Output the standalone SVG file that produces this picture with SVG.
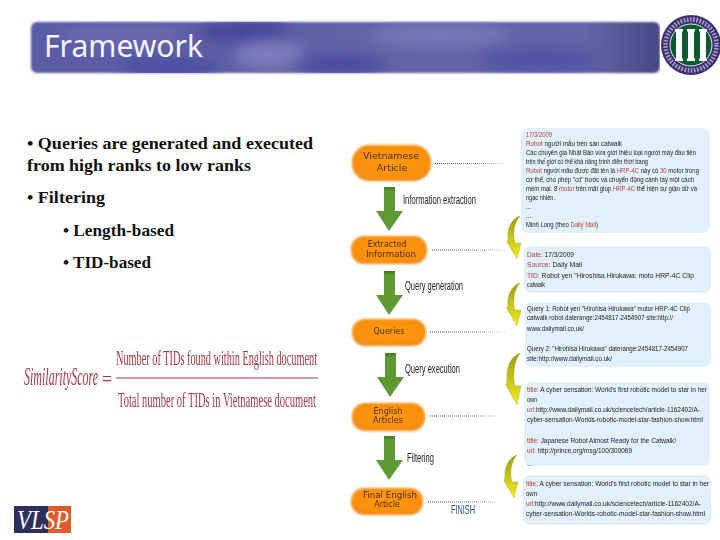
<svg xmlns="http://www.w3.org/2000/svg" xmlns:xlink="http://www.w3.org/1999/xlink" width="720" height="540" viewBox="0 0 720 540">
<style>
.body{font-family:"Liberation Serif","Times New Roman",serif;font-weight:bold;font-size:17px;fill:#111}
.node{fill:url(#orange);filter:url(#soft)}
.nt{font-family:"DejaVu Sans",Verdana,sans-serif;font-size:8px;fill:#4e2a06;text-anchor:middle;filter:url(#txt)}
.panel{fill:#e2f0fb}
.p{font-family:"Liberation Sans",Arial,sans-serif;font-size:6.6px;fill:#1c1c1c;filter:url(#txt)}
.r{fill:#b2423a}
.step{font-family:"Liberation Sans",Arial,sans-serif;font-size:12px;fill:#1c1c1c;filter:url(#txt)}
.dot{stroke:url(#fade);stroke-width:1;stroke-dasharray:1 1;fill:none}
.f{font-family:"Liberation Serif","Times New Roman",serif;fill:#a83648;filter:url(#txt)}
</style>
<defs>
<filter id="soft" x="-10%" y="-15%" width="120%" height="130%"><feGaussianBlur stdDeviation="0.8"/></filter>
<filter id="txt" x="-5%" y="-30%" width="110%" height="160%"><feGaussianBlur stdDeviation="0.25"/></filter>
<filter id="cloud" x="-50%" y="-100%" width="200%" height="300%"><feGaussianBlur stdDeviation="7"/></filter>
<filter id="edge" x="-2%" y="-10%" width="104%" height="120%"><feGaussianBlur stdDeviation="1.1"/></filter>
<radialGradient id="orange" cx="50%" cy="45%" r="65%"><stop offset="0" stop-color="#ff9a12"/><stop offset="0.75" stop-color="#f98f10"/><stop offset="1" stop-color="#e98a2c"/></radialGradient>
<linearGradient id="green" x1="0" y1="0" x2="0" y2="1"><stop offset="0" stop-color="#3f7d25"/><stop offset="0.1" stop-color="#5d9a2f"/><stop offset="1" stop-color="#5f9a35"/></linearGradient>
<linearGradient id="yel" x1="0" y1="0" x2="0" y2="1"><stop offset="0" stop-color="#9a9c1a"/><stop offset="0.55" stop-color="#c8c818"/><stop offset="1" stop-color="#f7ee22"/></linearGradient>
<linearGradient id="band" x1="0" y1="0" x2="1" y2="0"><stop offset="0" stop-color="#5a5ba6"/><stop offset="0.5" stop-color="#6263a8"/><stop offset="0.88" stop-color="#6465a8"/><stop offset="1" stop-color="#474885"/></linearGradient>
<linearGradient id="fade" gradientUnits="userSpaceOnUse" x1="428" y1="0" x2="505" y2="0"><stop offset="0" stop-color="#444"/><stop offset="0.6" stop-color="#777"/><stop offset="1" stop-color="#ddd"/></linearGradient>
<clipPath id="bandclip"><rect x="31" y="22" width="629" height="51" rx="6"/></clipPath>
<path id="ga" d="M-5,0 H6 V24 H14 L0,44 L-13,24 H-5 Z" fill="url(#green)"/>
<path id="ya" d="M0,0 C-9,3 -13,13 -12,22 L-13,26 L-3,43 L1,27 L-5,27 C-7,20 -7,8 0,0 Z" fill="url(#yel)" stroke="#a8a820" stroke-width="0.4"/>
</defs>
<rect width="720" height="540" fill="#fff"/>

<g id="banner">
<rect x="31" y="22" width="629" height="51" rx="6" fill="url(#band)" filter="url(#edge)"/>
<g clip-path="url(#bandclip)">
<ellipse cx="245" cy="32" rx="45" ry="12" fill="#44479c" filter="url(#cloud)"/>
<ellipse cx="170" cy="68" rx="50" ry="10" fill="#4a4da2" filter="url(#cloud)"/>
<ellipse cx="270" cy="55" rx="35" ry="14" fill="#7e7cb8" filter="url(#cloud)"/>
<ellipse cx="340" cy="65" rx="45" ry="10" fill="#494ca0" filter="url(#cloud)"/>
<ellipse cx="120" cy="35" rx="60" ry="10" fill="#6c6ab0" filter="url(#cloud)"/>
<ellipse cx="440" cy="35" rx="70" ry="12" fill="#7876b6" filter="url(#cloud)"/>
<ellipse cx="540" cy="60" rx="60" ry="12" fill="#4f52a6" filter="url(#cloud)"/>
</g>
<text x="44" y="57" textLength="159" lengthAdjust="spacingAndGlyphs" font-family="'Noto Sans','Open Sans',sans-serif" font-size="30" fill="#f4f4fb">Framework</text>
</g>

<g id="seal">
<rect x="660" y="12" width="60" height="66" fill="#fff"/>
<circle cx="691" cy="45" r="30" fill="#3d2f70"/>
<circle cx="691" cy="45" r="25.5" fill="none" stroke="#a9a3c8" stroke-width="4.500" stroke-dasharray="1.6 1.6"/>
<circle cx="691" cy="45" r="21" fill="#0c5a30" stroke="#e8e8e8" stroke-width="1"/>
<path fill="#fff" d="M675,29h8v2.500h-1v27h1v2.500h-8v-2.500h1v-27h-1z M687,29h8v2.500h-1v27h1v2.500h-8v-2.500h1v-27h-1z M699,29h8v2.500h-1v27h1v2.500h-8v-2.500h1v-27h-1z"/>
</g>

<g id="bullets">
<text class="body" x="27" y="149" textLength="286" lengthAdjust="spacingAndGlyphs">• Queries are generated and executed</text>
<text class="body" x="27" y="171" textLength="224" lengthAdjust="spacingAndGlyphs">from high ranks to low ranks</text>
<text class="body" x="27" y="203" textLength="78" lengthAdjust="spacingAndGlyphs">• Filtering</text>
<text class="body" x="63" y="236" textLength="111" lengthAdjust="spacingAndGlyphs">• Length-based</text>
<text class="body" x="63" y="268" textLength="88" lengthAdjust="spacingAndGlyphs">• TID-based</text>
</g>

<g id="formula">
<text class="f" transform="translate(24,385) scale(0.48,1)" font-size="25" font-style="italic">SimilarityScore</text>
<text class="f" x="102" y="386" font-size="20" textLength="10" lengthAdjust="spacingAndGlyphs">=</text>
<text class="f" transform="translate(116,365) scale(0.6,1)" font-size="20" textLength="335" lengthAdjust="spacingAndGlyphs">Number of TIDs found within English document</text>
<rect x="116" y="377.500" width="202" height="1" fill="#a83648"/>
<text class="f" transform="translate(118,407) scale(0.6,1)" font-size="20" textLength="330" lengthAdjust="spacingAndGlyphs">Total number of TIDs in Vietnamese document</text>
</g>

<g id="vlsp">
<rect x="14" y="506" width="34" height="27" fill="#2f2f5c"/>
<rect x="48" y="506" width="23" height="27" fill="#e2592a"/>
<text x="17" y="529" textLength="52" lengthAdjust="spacingAndGlyphs" font-family="'Liberation Serif',serif" font-style="italic" font-size="27" fill="#fff">VLSP</text>
</g>

<g id="connectors">
<path class="dot" d="M435,163.500H505M432,250H505M430,332H505M430,416H495M428,502H495"/>
<use xlink:href="#ga" href="#ga" x="389" y="187"/>
<use xlink:href="#ga" href="#ga" x="389" y="271"/>
<use xlink:href="#ga" href="#ga" x="390" y="353"/>
<use xlink:href="#ga" href="#ga" x="389" y="436"/>
<use xlink:href="#ya" href="#ya" x="520" y="216"/>
<use xlink:href="#ya" href="#ya" x="520" y="283"/>
<path d="M520,353 C510,357 506,368 507,381 L506,385 L517,405 L521,386 L515,386 C513,378 513,363 520,353 Z" fill="url(#yel)" stroke="#a8a820" stroke-width="0.4"/>
<use xlink:href="#ya" href="#ya" x="517" y="455"/>
</g>

<g id="step-labels">
<text class="step" x="403" y="204" textLength="73" lengthAdjust="spacingAndGlyphs">Information extraction</text>
<text class="step" x="405" y="290" textLength="58" lengthAdjust="spacingAndGlyphs">Query generation</text>
<text class="step" x="405" y="373" textLength="55" lengthAdjust="spacingAndGlyphs">Query execution</text>
<text class="step" x="407" y="462" textLength="27" lengthAdjust="spacingAndGlyphs">Filtering</text>
<text class="step" x="451" y="514" textLength="24" lengthAdjust="spacingAndGlyphs" style="fill:#27507e">FINISH</text>
</g>

<g id="node-vietnamese"><rect class="node" x="352" y="145" width="79" height="36" rx="17"/><text class="nt" x="391" y="159" style="font-size:9.500px" textLength="56" lengthAdjust="spacingAndGlyphs">Vietnamese</text><text class="nt" x="392" y="171" style="font-size:9.500px">Article</text></g>
<g id="node-extracted"><rect class="node" x="351" y="236" width="76" height="28" rx="13"/><text class="nt" x="387" y="247">Extracted</text><text class="nt" x="391" y="257" textLength="50" lengthAdjust="spacingAndGlyphs">Information</text></g>
<g id="node-queries"><rect class="node" x="352" y="319" width="74" height="27" rx="13"/><text class="nt" x="389" y="334">Queries</text></g>
<g id="node-english"><rect class="node" x="352" y="403" width="73" height="28" rx="13"/><text class="nt" x="388" y="414">English</text><text class="nt" x="388" y="423">Articles</text></g>
<g id="node-final"><rect class="node" x="351" y="488" width="72" height="27" rx="13"/><text class="nt" x="390" y="498" textLength="54" lengthAdjust="spacingAndGlyphs">Final English</text><text class="nt" x="387" y="507">Article</text></g>

<g id="panel-article">
<rect class="panel" x="521" y="128" width="189" height="105" rx="7"/>
<text class="p" x="526" y="137" textLength="26" lengthAdjust="spacingAndGlyphs"><tspan class="r">17/3/2009</tspan></text>
<text class="p" x="526" y="146" textLength="96" lengthAdjust="spacingAndGlyphs"><tspan class="r">Robot</tspan> người mẫu trên sàn catwalk</text>
<text class="p" x="526" y="155" textLength="170" lengthAdjust="spacingAndGlyphs">Các chuyên gia Nhật Bản vừa giới thiệu loại người máy đầu tiên</text>
<text class="p" x="526" y="164" textLength="122" lengthAdjust="spacingAndGlyphs">trên thế giới có thể khả năng trình diễn thời trang</text>
<text class="p" x="526" y="173" textLength="173" lengthAdjust="spacingAndGlyphs"><tspan class="r">Robot</tspan> người mẫu được đặt tên là <tspan class="r">HRP-4C</tspan> này có <tspan class="r">30</tspan> motor trong</text>
<text class="p" x="526" y="182" textLength="168" lengthAdjust="spacingAndGlyphs">cơ thể, cho phép "cô" bước và chuyển động cánh tay một cách</text>
<text class="p" x="526" y="191" textLength="171" lengthAdjust="spacingAndGlyphs">mềm mại. 8 <tspan class="r">motor</tspan> trên mặt giúp <tspan class="r">HRP-4C</tspan> thể hiện sự giận dữ và</text>
<text class="p" x="526" y="200" textLength="29" lengthAdjust="spacingAndGlyphs">ngạc nhiên.</text>
<text class="p" x="526" y="209">...</text>
<text class="p" x="526" y="218">...</text>
<text class="p" x="526" y="227" textLength="72" lengthAdjust="spacingAndGlyphs">Minh Long (theo <tspan class="r">Daily Mail</tspan>)</text>
</g>

<g id="panel-info">
<rect class="panel" x="524" y="246" width="187" height="47" rx="7"/>
<text class="p" x="527" y="257" textLength="47" lengthAdjust="spacingAndGlyphs"><tspan class="r">Date:</tspan> 17/3/2009</text>
<text class="p" x="527" y="267" textLength="55" lengthAdjust="spacingAndGlyphs"><tspan class="r">Source:</tspan> Daily Mail</text>
<text class="p" x="527" y="278" textLength="167" lengthAdjust="spacingAndGlyphs"><tspan class="r">TID:</tspan> Robot yen "Hiroshisa Hirukawa: moto HRP-4C Clip</text>
<text class="p" x="527" y="287" textLength="18" lengthAdjust="spacingAndGlyphs">catwalk</text>
</g>

<g id="panel-queries">
<rect class="panel" x="525" y="302" width="186" height="65" rx="7"/>
<text class="p" x="527" y="311" textLength="163" lengthAdjust="spacingAndGlyphs">Query 1: Robot yen "Hirohisa Hirukawa" motor HRP-4C Clip</text>
<text class="p" x="527" y="320" textLength="146" lengthAdjust="spacingAndGlyphs">catwalk robot daterange:2454817-2454907 site:http://</text>
<text class="p" x="527" y="331" textLength="57" lengthAdjust="spacingAndGlyphs">www.dailymail.co.uk/</text>
<text class="p" x="527" y="351" textLength="161" lengthAdjust="spacingAndGlyphs">Query 2: "Hirohisa Hirukawa" daterange:2454817-2454907</text>
<text class="p" x="527" y="361" textLength="85" lengthAdjust="spacingAndGlyphs">site:http://www.dailymail.co.uk/</text>
</g>

<g id="panel-articles">
<rect class="panel" x="524" y="382" width="186" height="84" rx="7"/>
<text class="p" x="527" y="392" textLength="180" lengthAdjust="spacingAndGlyphs"><tspan class="r">title:</tspan> A cyber sensation: World's first robotic model to star in her</text>
<text class="p" x="527" y="402" textLength="10" lengthAdjust="spacingAndGlyphs">own</text>
<text class="p" x="527" y="412" textLength="173" lengthAdjust="spacingAndGlyphs"><tspan class="r">url:</tspan>http://www.dailymail.co.uk/sciencetech/article-1162402/A-</text>
<text class="p" x="527" y="422" textLength="176" lengthAdjust="spacingAndGlyphs">cyber-sensation-Worlds-robotic-model-star-fashion-show.html</text>
<text class="p" x="527" y="443" textLength="149" lengthAdjust="spacingAndGlyphs"><tspan class="r">title:</tspan> Japanese Robot Almost Ready for the Catwalk!</text>
<text class="p" x="527" y="453" textLength="105" lengthAdjust="spacingAndGlyphs"><tspan class="r">url:</tspan> http://prince.org/msg/100/300069</text>
<text class="p" x="527" y="466">...</text>
</g>

<g id="panel-final">
<rect class="panel" x="523" y="475" width="188" height="50" rx="7"/>
<text class="p" x="526" y="486" textLength="183" lengthAdjust="spacingAndGlyphs"><tspan class="r">title:</tspan> A cyber sensation: World's first robotic model to star in her</text>
<text class="p" x="526" y="496" textLength="11" lengthAdjust="spacingAndGlyphs">own</text>
<text class="p" x="526" y="506" textLength="175" lengthAdjust="spacingAndGlyphs"><tspan class="r">url:</tspan>http://www.dailymail.co.uk/sciencetech/article-1162402/A-</text>
<text class="p" x="526" y="516" textLength="179" lengthAdjust="spacingAndGlyphs">cyber-sensation-Worlds-robotic-model-star-fashion-show.html</text>
</g>
</svg>
